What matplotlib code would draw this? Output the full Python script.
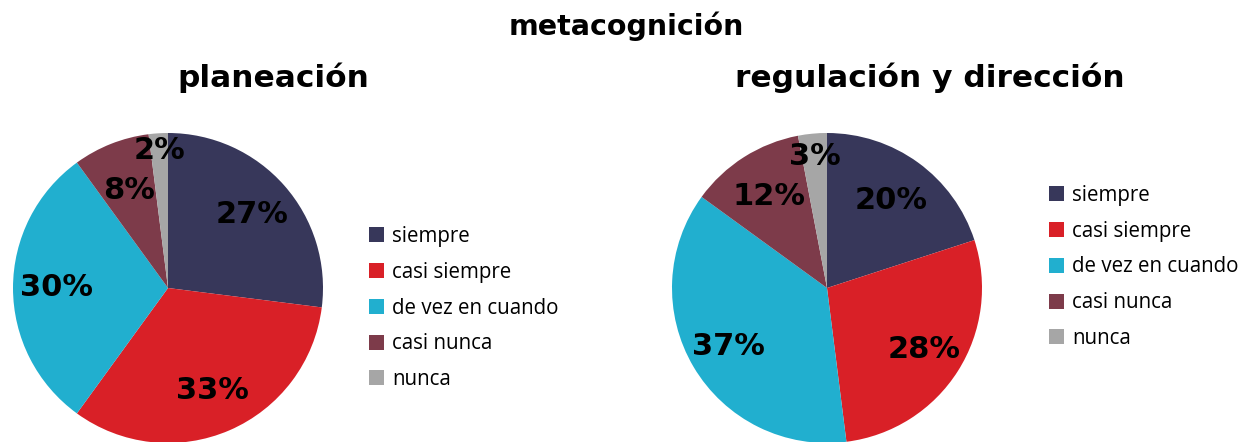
import numpy as np
import matplotlib
matplotlib.use("Agg")
import matplotlib.pyplot as plt

# datos
categorias = ['siempre', 'casi siempre', 'de vez en cuando', 'casi nunca', 'nunca']
planeacion = [27, 33, 30, 8, 2]
regulacion = [20, 28, 37, 12, 3]
colores = ['#37375A', '#D92027', '#21AFCF', '#7D3B4A', '#A6A6A6']

W, H = 1239, 442
fig = plt.figure(figsize=(W / 100, H / 100), dpi=100)


def pie_panel(cx, cy, r, valores, dist):
    # ejes colocados en pixeles (cy medido desde arriba)
    ax = fig.add_axes([(cx - r) / W, (H - cy - r) / H, 2 * r / W, 2 * r / H])
    wedges, textos, auto = ax.pie(valores, colors=colores, startangle=90,
                                  counterclock=False, radius=1,
                                  autopct='%1.0f%%', pctdistance=0.7,
                                  wedgeprops=dict(linewidth=0))
    for w, t, d in zip(wedges, auto, dist):
        ang = np.deg2rad((w.theta1 + w.theta2) / 2)
        t.set_position((d * np.cos(ang), d * np.sin(ang)))
        t.set_fontsize(22)
        t.set_fontweight('heavy')
        t.set_color('black')
    ax.set_xlim(-1, 1)
    ax.set_ylim(-1, 1)
    ax.set_aspect('auto')
    ax.axis('off')
    return wedges


w1 = pie_panel(168, 288, 155, planeacion, [0.72, 0.72, 0.72, 0.68, 0.89])
w2 = pie_panel(827, 288, 155, regulacion, [0.70, 0.74, 0.74, 0.70, 0.85])

leg_kw = dict(loc='center left', frameon=False, handlelength=0.75,
              handleheight=0.75, handletextpad=0.4, labelspacing=0.72,
              prop={'family': 'Open Sans', 'size': 14.8})
fig.legend(w1, categorias, bbox_to_anchor=(350 / W, 1 - 308 / H), **leg_kw)
fig.legend(w2, categorias, bbox_to_anchor=(1030 / W, 1 - 267 / H), **leg_kw)

fig.text(626 / W, 1 - 35 / H, 'metacognición', ha='center', va='baseline',
         fontsize=20.5, fontweight='bold')
fig.text(273 / W, 1 - 87 / H, 'planeación', ha='center', va='baseline',
         fontsize=22.5, fontweight='bold')
fig.text(930 / W, 1 - 87 / H, 'regulación y dirección', ha='center',
         va='baseline', fontsize=22.5, fontweight='bold')

plt.savefig('out.png', dpi=100)
